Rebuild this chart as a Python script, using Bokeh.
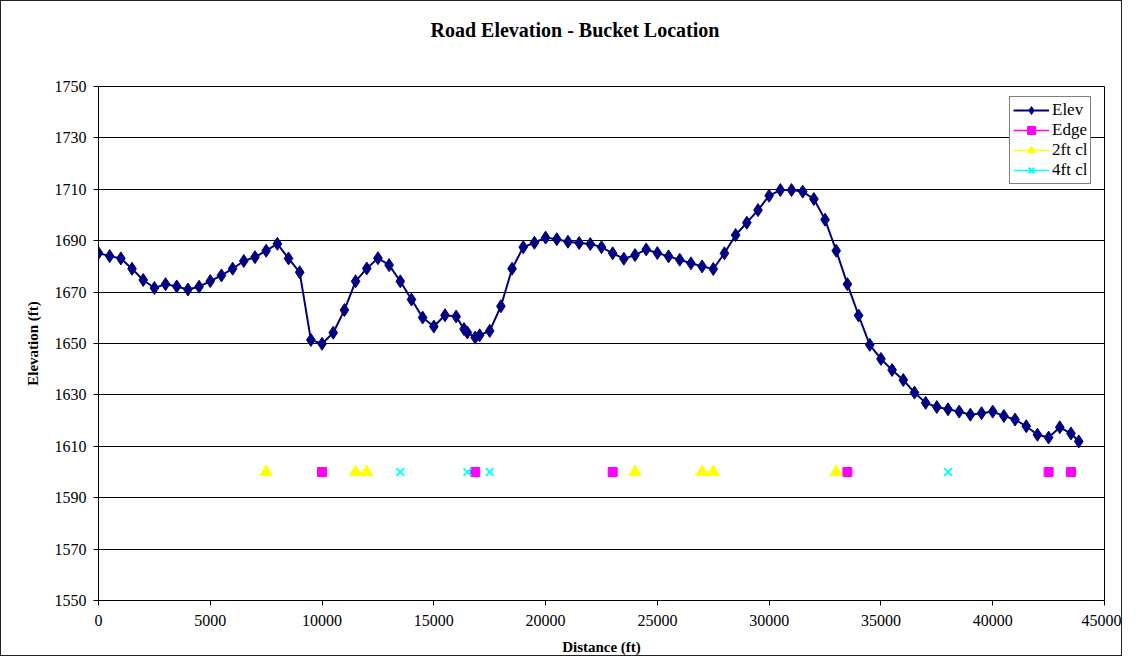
import math
from bokeh.plotting import figure
from bokeh.models import Legend, LegendItem, FixedTicker, Range1d, Title
from bokeh.embed import file_html
from bokeh.resources import INLINE

# ---- data ----
distance = [0, 500, 1000, 1500, 2000, 2500, 3000, 3500, 4000, 4500,
            5000, 5500, 6000, 6500, 7000, 7500, 8000, 8500, 9000, 9500,
            10000, 10500, 11000, 11500, 12000, 12500, 13000, 13500, 14000, 14500,
            15000, 15500, 16000, 16350, 16500, 16850, 17050, 17500, 18000, 18500,
            19000, 19500, 20000, 20500, 21000, 21500, 22000, 22500, 23000, 23500,
            24000, 24500, 25000, 25500, 26000, 26500, 27000, 27500, 28000, 28500,
            29000, 29500, 30000, 30500, 31000, 31500, 32000, 32500, 33000, 33500,
            34000, 34500, 35000, 35500, 36000, 36500, 37000, 37500, 38000, 38500,
            39000, 39500, 40000, 40500, 41000, 41500, 42000, 42500, 43000, 43500,
            43850]
elevation = [1685.2, 1684.0, 1683.1, 1679.1, 1674.7, 1671.6, 1673.1, 1672.2, 1671.0, 1672.1,
             1674.3, 1676.5, 1679.1, 1682.1, 1683.6, 1686.1, 1688.8, 1683.1, 1677.7, 1651.4,
             1649.9, 1654.2, 1663.0, 1674.2, 1679.2, 1683.2, 1680.5, 1674.2, 1667.1, 1660.1,
             1656.6, 1661.0, 1660.5, 1655.6, 1654.3, 1652.3, 1653.2, 1654.9, 1664.5, 1679.1,
             1687.5, 1689.2, 1691.2, 1690.6, 1689.6, 1689.1, 1688.7, 1687.5, 1685.1, 1683.0,
             1684.4, 1686.6, 1685.2, 1683.9, 1682.6, 1681.2, 1680.0, 1679.0, 1685.1, 1692.2,
             1697.0, 1701.9, 1707.5, 1709.7, 1709.7, 1709.1, 1706.2, 1698.2, 1686.1, 1673.1,
             1660.9, 1649.5, 1644.0, 1639.7, 1635.8, 1630.9, 1626.9, 1625.3, 1624.4, 1623.5,
             1622.3, 1622.9, 1623.5, 1621.8, 1620.4, 1617.8, 1614.5, 1613.4, 1617.4, 1615.0,
             1611.9]

edge_x = [10000, 16850, 23000, 33500, 42500, 43500]
edge_y = [1600, 1600, 1600, 1600, 1600, 1600]
cl2_x = [7500, 11500, 12000, 24000, 27000, 27500, 33000]
cl2_y = [1600, 1600, 1600, 1600, 1600, 1600, 1600]
cl4_x = [13500, 16500, 17500, 38000]
cl4_y = [1600, 1600, 1600, 1600]

x_ticks = [0, 5000, 10000, 15000, 20000, 25000, 30000, 35000, 40000, 45000]
y_ticks = [1550, 1570, 1590, 1610, 1630, 1650, 1670, 1690, 1710, 1730, 1750]

TITLE = "Road Elevation - Bucket Location"
SERIF = "Liberation Serif"


def broken(xs, ys, step=500):
    """Insert NaN breaks between points that are not adjacent samples."""
    ox, oy = [], []
    for i, (x, y) in enumerate(zip(xs, ys)):
        if i > 0 and x - xs[i - 1] > step:
            ox.append(float("nan"))
            oy.append(float("nan"))
        ox.append(x)
        oy.append(y)
    return ox, oy


p = figure(width=1122, height=656, output_backend="svg", toolbar_location=None,
           x_range=Range1d(0, 45000), y_range=Range1d(1550, 1750),
           min_border_left=97, min_border_right=19, min_border_top=85,
           min_border_bottom=57)
p.styles = {"border": "1px solid #222"}

# spacer panel between the frame and the title, pushing the title up
spacer = Title(text=" ", text_font_size="16px", standoff=22)
p.add_layout(spacer, "above")

p.title.text = TITLE
p.title.text_font = SERIF
p.title.text_font_style = "bold"
p.title.text_font_size = "20px"
p.title.text_color = "black"
p.title.align = "left"
p.title.offset = 332
p.title.standoff = 10

p.outline_line_color = "black"
p.outline_line_width = 1
p.xgrid.visible = False
p.ygrid.grid_line_color = "black"
p.ygrid.grid_line_width = 1

for ax in (p.xaxis[0], p.yaxis[0]):
    ax.major_tick_in = 0
    ax.major_tick_out = 5
    ax.minor_tick_line_color = None
    ax.axis_line_color = "black"
    ax.major_tick_line_color = "black"
    ax.major_label_text_font = SERIF
    ax.major_label_text_font_size = "16px"
    ax.major_label_text_color = "black"
    ax.axis_label_text_font = SERIF
    ax.axis_label_text_font_style = "bold"
    ax.axis_label_text_font_size = "15px"
    ax.axis_label_text_color = "black"

p.xaxis.ticker = FixedTicker(ticks=x_ticks)
p.yaxis.ticker = FixedTicker(ticks=y_ticks)
p.xaxis.axis_label = "Distance (ft)"
p.yaxis.axis_label = "Elevation (ft)"
p.xaxis.major_label_standoff = 9
p.xaxis.axis_label_standoff = 10
p.yaxis.major_label_standoff = 7
p.yaxis.axis_label_standoff = 11

# Elev
l_elev = p.line(distance, elevation, line_color="#000080", line_width=2)
m_elev = p.scatter(distance, elevation, marker="diamond", size=13,
                   fill_color="#000080", line_color="#000080")

# Edge
ex, ey = broken(edge_x, edge_y)
l_edge = p.line(ex, ey, line_color="#FF00FF", line_width=1.5)
m_edge = p.scatter(edge_x, edge_y, marker="square", size=9,
                   fill_color="#FF00FF", line_color="#FF00FF")

# 2ft cl
c2x, c2y = broken(cl2_x, cl2_y)
l_cl2 = p.line(c2x, c2y, line_color="#FFFF00", line_width=1.5)
m_cl2 = p.scatter(cl2_x, cl2_y, marker="triangle", size=12,
                  fill_color="#FFFF00", line_color="#FFFF00")

# 4ft cl
c4x, c4y = broken(cl4_x, cl4_y)
l_cl4 = p.line(c4x, c4y, line_color="#00FFFF", line_width=1.5)
m_cl4 = p.scatter(cl4_x, cl4_y, marker="x", size=11,
                  line_color="#00FFFF", line_width=2)

legend = Legend(items=[
    LegendItem(label="Elev", renderers=[l_elev, m_elev]),
    LegendItem(label="Edge", renderers=[l_edge, m_edge]),
    LegendItem(label="2ft cl", renderers=[l_cl2, m_cl2]),
    LegendItem(label="4ft cl", renderers=[l_cl4, m_cl4]),
], location=(911, 416))
legend.margin = 0
legend.padding = 3
legend.spacing = 0
legend.border_line_color = "black"
legend.border_line_width = 1
legend.background_fill_color = "white"
legend.background_fill_alpha = 1
legend.label_text_font = SERIF
legend.label_text_font_size = "17px"
legend.label_text_color = "black"
legend.glyph_width = 36
legend.glyph_height = 20
legend.label_height = 20
legend.label_standoff = 3
p.add_layout(legend)

open("out.html", "w").write(file_html(p, INLINE))
